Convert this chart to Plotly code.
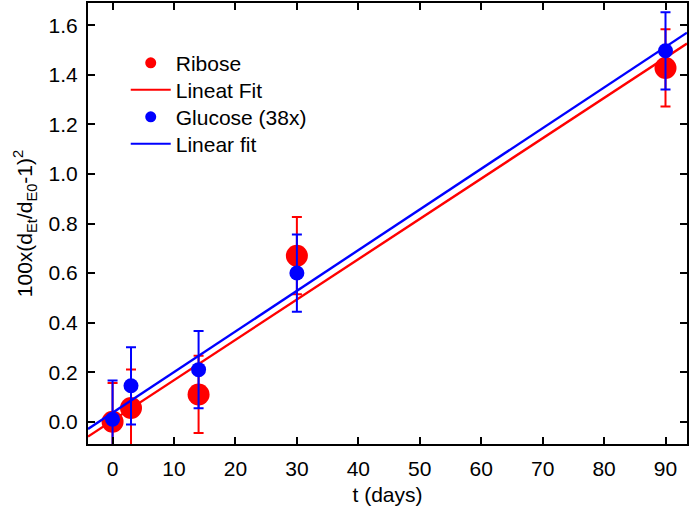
import plotly.graph_objects as go
import numpy as np

days = [0, 3, 14, 30, 90]
ribose = [0.0, 0.055, 0.11, 0.67, 1.428]
ribose_err = [0.156, 0.156, 0.156, 0.156, 0.156]
glucose = [0.01, 0.145, 0.21, 0.60, 1.497]
glucose_err = [0.156, 0.156, 0.156, 0.156, 0.156]

# fit coefficients: (slope, intercept)
ribose_fit = (0.01627, 0.005)
glucose_fit = (0.01641, 0.036)

legend_names = ["Ribose", "Lineat Fit", "Glucose (38x)", "Linear fit"]

x_range = [-4, 93.5]
y_range = [-0.09, 1.69]
xfit = np.array(x_range)

RED = "#ff0000"
BLUE = "#0000ff"
FONT = "Arial, Liberation Sans, Helvetica, sans-serif"

fig = go.Figure()
fig.add_trace(go.Scatter(
    x=days, y=ribose, mode="markers", name=legend_names[0], showlegend=False,
    marker=dict(color=RED, size=22),
    error_y=dict(type="data", array=ribose_err, color=RED, thickness=2, width=5),
))
fig.add_trace(go.Scatter(
    x=xfit, y=ribose_fit[0] * xfit + ribose_fit[1], mode="lines", name=legend_names[1],
    showlegend=False, line=dict(color=RED, width=2.4),
))
fig.add_trace(go.Scatter(
    x=days, y=glucose, mode="markers", name=legend_names[2], showlegend=False,
    marker=dict(color=BLUE, size=15),
    error_y=dict(type="data", array=glucose_err, color=BLUE, thickness=2, width=5),
))
fig.add_trace(go.Scatter(
    x=xfit, y=glucose_fit[0] * xfit + glucose_fit[1], mode="lines", name=legend_names[3],
    showlegend=False, line=dict(color=BLUE, width=2.4),
))

# legend entries, one small legend each so the row spacing can match
fig.add_trace(go.Scatter(x=[None], y=[None], mode="markers", name=legend_names[0],
                         marker=dict(color=RED, size=11), legend="legend"))
fig.add_trace(go.Scatter(x=[None], y=[None], mode="lines", name=legend_names[1],
                         line=dict(color=RED, width=2), legend="legend2"))
fig.add_trace(go.Scatter(x=[None], y=[None], mode="markers", name=legend_names[2],
                         marker=dict(color=BLUE, size=11), legend="legend3"))
fig.add_trace(go.Scatter(x=[None], y=[None], mode="lines", name=legend_names[3],
                         line=dict(color=BLUE, width=2), legend="legend4"))

axis_common = dict(
    showline=True, linecolor="black", linewidth=2, mirror="ticks",
    ticks="inside", ticklen=7, tickwidth=2, tickcolor="black",
    showgrid=False, zeroline=False, automargin=False,
    tickfont=dict(size=21, color="black", family=FONT),
)

fig.update_xaxes(
    range=x_range, tickmode="array", tickvals=list(range(0, 100, 10)),
    title=dict(text="t (days)", font=dict(size=21, color="black", family=FONT), standoff=8),
    ticklabelstandoff=5,
    **axis_common,
)
fig.update_yaxes(
    range=y_range, tickmode="array", tickvals=[0, 0.2, 0.4, 0.6, 0.8, 1.0, 1.2, 1.4, 1.6],
    ticktext=["0.0", "0.2", "0.4", "0.6", "0.8", "1.0", "1.2", "1.4", "1.6"],
    title=dict(text="100x(d<sub>Et</sub>/d<sub>E0</sub>-1)<sup>2</sup>",
               font=dict(size=21, color="black", family=FONT), standoff=10),
    ticklabelstandoff=4,
    **axis_common,
)


def legend_box(ytop):
    return dict(
        x=0.063, y=ytop, xanchor="left", yanchor="top",
        bgcolor="rgba(0,0,0,0)", borderwidth=0,
        font=dict(size=21, color="black", family=FONT),
        itemsizing="trace", tracegroupgap=0, itemwidth=40,
    )


fig.update_layout(
    width=692, height=510,
    margin=dict(l=88, r=5, t=3, b=66),
    paper_bgcolor="white", plot_bgcolor="white",
    font=dict(family=FONT, color="black"),
    showlegend=True,
    legend=legend_box(0.91),
    legend2=legend_box(0.8488),
    legend3=legend_box(0.7875),
    legend4=legend_box(0.7263),
)

fig.write_html("out.html", post_script="document.body.style.margin='0';",
               config={"displayModeBar": False})
